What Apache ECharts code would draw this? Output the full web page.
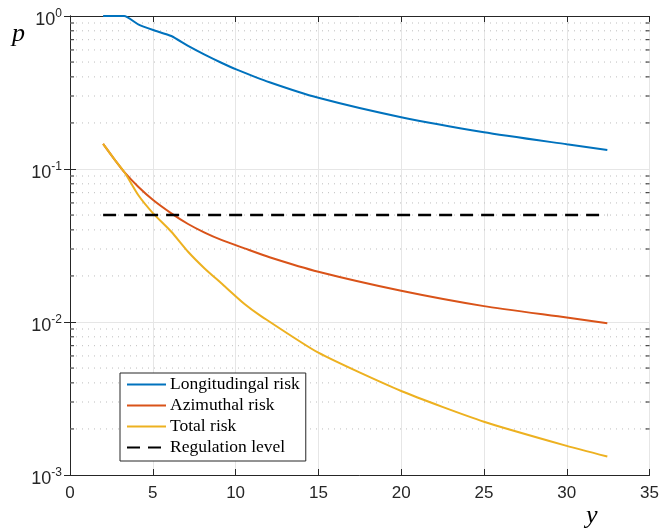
<!DOCTYPE html>
<html>
<head>
<meta charset="utf-8">
<script src="https://cdn.jsdelivr.net/npm/echarts@6/dist/echarts.min.js"></script>
<style>html,body{margin:0;padding:0;background:#fff;}#c{width:662px;height:529px;}</style>
</head>
<body>
<div id="c"></div>
<script>
// ---- data ----
const seriesNames = ['Longitudingal risk', 'Azimuthal risk', 'Total risk', 'Regulation level'];
const longX = [2, 3.0, 3.27, 4.12, 5.02, 6.12, 7.13, 8.13, 9.14, 10.04, 12.05, 15, 20, 25, 30, 32.45];
const longP = [1, 1, 1, 0.882, 0.81, 0.74, 0.637, 0.559, 0.495, 0.448, 0.369, 0.292, 0.218, 0.174, 0.145, 0.133];
const azX = [2, 2.65, 3.31, 4.12, 5.02, 6.12, 7.13, 8.13, 9.14, 10.54, 12.05, 15, 20, 25, 30, 32.45];
const azP = [0.146, 0.117, 0.0946, 0.0766, 0.0627, 0.0513, 0.0437, 0.0384, 0.0344, 0.0303, 0.0265, 0.0213, 0.016, 0.0127, 0.0107, 0.0098];
const totX = [2, 2.65, 3.31, 4.12, 5.02, 6.12, 7.13, 8.13, 9.14, 10.54, 11.45, 15, 20, 25, 30, 32.45];
const totP = [0.146, 0.117, 0.0946, 0.0676, 0.0513, 0.0389, 0.0288, 0.0224, 0.0179, 0.0131, 0.0111, 0.0063, 0.00354, 0.00223, 0.00155, 0.00132];
const regX = [2, 32.45];
const regP = [0.05, 0.05];
const xTicks = [0, 5, 10, 15, 20, 25, 30, 35];
const yDecades = [0.001, 0.01, 0.1, 1];
const minorMult = [2, 3, 4, 5, 6, 7, 8, 9];

const pairs = (xs, ys) => xs.map((x, i) => [x, ys[i]]);
const minorVals = [];
yDecades.slice(0, 3).forEach(d => minorMult.forEach(m => minorVals.push([0, +(d * m).toPrecision(3)])));

const axisColor = '#262626';
const chart = echarts.init(document.getElementById('c'), null, {renderer: 'canvas'});

const baseX = {
  type: 'value', min: xTicks[0], max: xTicks[xTicks.length - 1], interval: 5,
  axisLine: {show: true, lineStyle: {color: axisColor, width: 1}},
  axisTick: {show: true, inside: true, length: 6, lineStyle: {color: axisColor}},
  splitLine: {show: false}
};
const baseY = {
  type: 'log', logBase: 10, min: 0.001, max: 1,
  axisLine: {show: true, lineStyle: {color: axisColor, width: 1}},
  axisTick: {show: true, inside: true, length: 6, lineStyle: {color: axisColor}},
  splitLine: {show: false}
};

chart.setOption({
  animation: false,
  backgroundColor: '#fff',
  grid: {left: 70, right: 11, top: 16, bottom: 54, containLabel: false},
  xAxis: [
    Object.assign({}, baseX, {
      position: 'bottom',
      axisLabel: {show: true, color: axisColor, fontSize: 17, fontFamily: 'Liberation Sans', margin: 10},
      splitLine: {show: true, lineStyle: {color: '#e6e6e6', width: 1}}
    }),
    Object.assign({}, baseX, {position: 'top', axisLabel: {show: false}})
  ],
  yAxis: [
    Object.assign({}, baseY, {
      position: 'left',
      splitLine: {show: true, lineStyle: {color: '#e6e6e6', width: 1}},
      axisLabel: {
        show: true, margin: 8, color: axisColor,
        formatter: v => '{b|10}{s|' + Math.round(Math.log10(v)) + '}',
        rich: {
          b: {fontSize: 18, fontFamily: 'Liberation Sans', color: axisColor, padding: [8, 0, 0, 0]},
          s: {fontSize: 12, fontFamily: 'Liberation Sans', color: axisColor, verticalAlign: 'top', padding: [5, 0, 0, 0]}
        }
      }
    }),
    Object.assign({}, baseY, {position: 'right', axisLabel: {show: false}})
  ],
  legend: {
    data: seriesNames,
    orient: 'vertical',
    left: 120, top: 373,
    padding: [1, 6, 3, 6],
    itemGap: 0,
    itemWidth: 39, itemHeight: 12,
    itemStyle: {opacity: 0},
    borderColor: axisColor, borderWidth: 1, borderRadius: 0,
    backgroundColor: '#fff',
    textStyle: {fontFamily: 'Liberation Serif', fontSize: 17.5, color: '#000', lineHeight: 21, padding: [0, 0, 0, -1]}
  },
  graphic: [
    {type: 'text', left: 12, top: 21, z: 100, style: {text: 'p', font: 'italic 26px "Liberation Serif"', fill: '#000'}},
    {type: 'text', left: 586, top: 503, z: 100, style: {text: 'y', font: 'italic 26px "Liberation Serif"', fill: '#000'}}
  ],
  series: [
    {
      type: 'custom', name: 'minor', silent: true, z: 1,
      xAxisIndex: 0, yAxisIndex: 0, data: minorVals, clip: false,
      renderItem: (params, api) => {
        const v = api.value(1);
        const a = api.coord([xTicks[0], v]);
        const b = api.coord([xTicks[xTicks.length - 1], v]);
        return {type: 'group', children: [
          {type: 'line', shape: {x1: a[0], y1: a[1], x2: b[0], y2: b[1]},
           style: {stroke: '#bdbdbd', lineWidth: 1, lineDash: [1, 5]}},
          {type: 'line', shape: {x1: a[0], y1: a[1], x2: a[0] + 4, y2: a[1]}, style: {stroke: axisColor, lineWidth: 1}},
          {type: 'line', shape: {x1: b[0] - 4, y1: b[1], x2: b[0], y2: b[1]}, style: {stroke: axisColor, lineWidth: 1}}
        ]};
      }
    },
    {name: seriesNames[0], type: 'line', data: pairs(longX, longP), showSymbol: false, symbol: 'none', smooth: 0.2, clip: false, z: 3,
     lineStyle: {color: '#0072BD', width: 2}, itemStyle: {color: '#0072BD'}},
    {name: seriesNames[1], type: 'line', data: pairs(azX, azP), showSymbol: false, symbol: 'none', smooth: 0.2, z: 4,
     lineStyle: {color: '#D95319', width: 2}, itemStyle: {color: '#D95319'}},
    {name: seriesNames[2], type: 'line', data: pairs(totX, totP), showSymbol: false, symbol: 'none', smooth: 0.2, z: 5,
     lineStyle: {color: '#EDB120', width: 2}, itemStyle: {color: '#EDB120'}},
    {name: seriesNames[3], type: 'line', data: pairs(regX, regP), showSymbol: false, symbol: 'none', z: 6,
     lineStyle: {color: '#000', width: 2.5, type: [13, 8]}, itemStyle: {color: '#000'}}
  ]
});
</script>
</body>
</html>
